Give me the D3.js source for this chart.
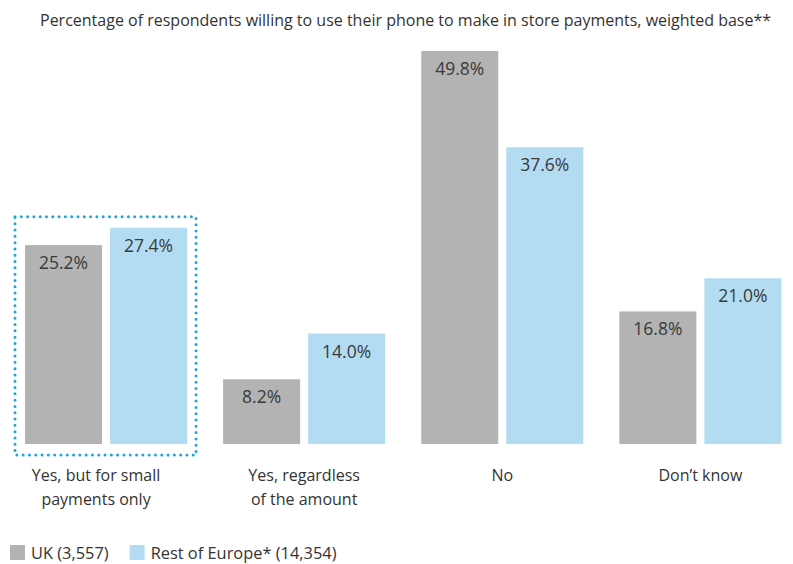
<!DOCTYPE html>
<html>
<head>
<meta charset="utf-8">
<script src="https://cdn.jsdelivr.net/npm/d3@7"></script>
<style>
  html, body { margin: 0; padding: 0; background: #fff; }
  svg text { font-family: "Open Sans", "Noto Sans", sans-serif; fill: #333; }
</style>
</head>
<body>
<svg id="chart" width="793" height="564"></svg>
<script>
// Survey answers and the share of respondents giving each one (%)
const categories = ["Yes, but for small\npayments only", "Yes, regardless\nof the amount", "No", "Don\u2019t know"];
const seriesNames = ["UK (3,557)", "Rest of Europe* (14,354)"];
const ukValues = [25.2, 8.2, 49.8, 16.8];
const europeValues = [27.4, 14.0, 37.6, 21.0];
const titleText = "Percentage of respondents willing to use their phone to make in store payments, weighted base**";

const colors = ["#b3b3b3", "#b3dcf2"];
const svg = d3.select("#chart");

const baseline = 444;
const y = d3.scaleLinear().domain([0, 49.8]).range([baseline, 51]);

const x0 = d3.scaleBand()
  .domain(d3.range(categories.length))
  .range([25, 781.4])
  .paddingInner(0.182)
  .paddingOuter(0);

const x1 = d3.scaleBand()
  .domain([0, 1])
  .range([0, x0.bandwidth()])
  .paddingInner(0.094);

const rows = categories.map((c, i) => ({ i, values: [ukValues[i], europeValues[i]] }));

// Title
svg.append("text")
  .attr("x", 40).attr("y", 26)
  .style("font-size", "16px")
  .text(titleText);

// Highlight frame around the first answer group
const pad = 10;
svg.append("rect")
  .attr("x", x0(0) - pad)
  .attr("y", y(europeValues[0]) - 11)
  .attr("width", x0.bandwidth() + pad * 2 - 1)
  .attr("height", baseline + 11 - (y(europeValues[0]) - 11))
  .attr("fill", "none")
  .attr("stroke", "#1ea5e0")
  .attr("stroke-width", 3)
  .attr("stroke-linecap", "round")
  .attr("stroke-dasharray", "0 6.3");

// Bars and value labels
const groups = svg.selectAll("g.group")
  .data(rows)
  .join("g")
  .attr("class", "group")
  .attr("transform", d => `translate(${x0(d.i)},0)`);

groups.selectAll("rect")
  .data(d => d.values.map((v, k) => ({ v, k })))
  .join("rect")
  .attr("x", d => x1(d.k))
  .attr("y", d => y(d.v))
  .attr("width", x1.bandwidth())
  .attr("height", d => baseline - y(d.v))
  .attr("fill", d => colors[d.k]);

groups.selectAll("text.val")
  .data(d => d.values.map((v, k) => ({ v, k })))
  .join("text")
  .attr("class", "val")
  .attr("x", d => x1(d.k) + x1.bandwidth() / 2)
  .attr("y", d => y(d.v) + 24)
  .attr("text-anchor", "middle")
  .style("font-size", "17.5px")
  .style("fill", "#3a3a3a")
  .text(d => d3.format(".1f")(d.v) + "%");

// Category labels
const labels = svg.selectAll("text.cat")
  .data(rows)
  .join("text")
  .attr("class", "cat")
  .attr("x", d => x0(d.i) + x0.bandwidth() / 2 - (d.i === 0 ? 10 : 0))
  .attr("y", 481)
  .attr("text-anchor", "middle")
  .style("font-size", "16px");

labels.selectAll("tspan")
  .data(d => categories[d.i].split("\n"))
  .join("tspan")
  .attr("x", function () { return d3.select(this.parentNode).attr("x"); })
  .attr("dy", (d, j) => j === 0 ? 0 : 24)
  .text(d => d);

// Legend
const legend = svg.append("g").attr("transform", "translate(10,545)");
let lx = 0;
seriesNames.forEach((name, k) => {
  const item = legend.append("g").attr("transform", `translate(${lx},0)`);
  item.append("rect").attr("width", 15).attr("height", 15).attr("fill", colors[k]);
  const t = item.append("text").attr("x", 21).attr("y", 13.5).style("font-size", "16.4px").text(name);
  lx += 21 + t.node().getComputedTextLength() + 21;
});
</script>
</body>
</html>
